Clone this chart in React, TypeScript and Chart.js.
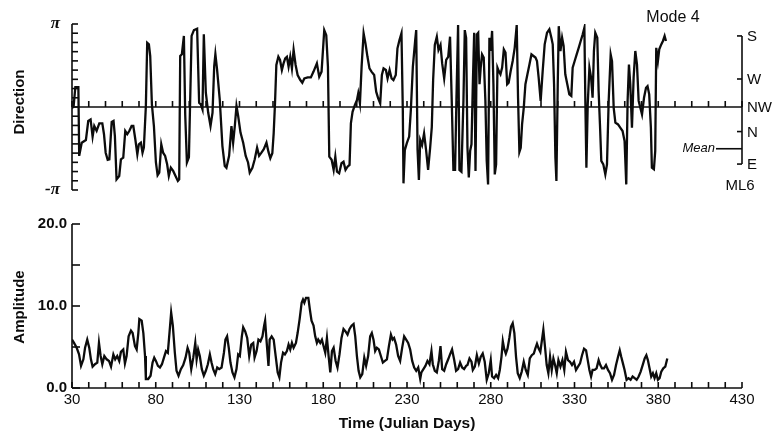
import React, { useEffect, useRef } from 'react';
import { Chart, registerables } from 'chart.js';

Chart.register(...registerables);

const PI = Math.PI;
const FAMILY = '"Liberation Sans", Arial, Helvetica, sans-serif';

// ---------- Direction series (radians) ----------
const dirDays = [
  30.0, 31.0, 32.0, 33.8, 34.3, 35.8, 38.3, 39.7, 41.1, 42.3, 43.3, 44.7, 46.3, 48.1, 49.1, 50.1, 51.3, 52.3,
  53.7, 54.8, 55.6, 56.6, 58.2, 59.2, 60.6, 61.8, 63.0, 64.2, 65.6, 66.6, 67.8, 69.0, 69.9, 71.1, 72.1, 72.9,
  74.1, 74.9, 75.9, 76.7, 77.7, 78.9, 80.1, 81.1, 82.1, 83.3, 84.4, 85.6, 86.8, 87.8, 89.0, 90.4, 91.8, 93.2,
  94.0, 94.6, 95.6, 96.8, 97.6, 98.6, 99.8, 101.4, 102.8, 104.7, 105.9, 106.9, 107.9, 108.7, 109.9, 111.3,
  112.7, 113.9, 114.9, 115.6, 116.6, 118.2, 119.8, 121.2, 122.2, 123.8, 125.2, 126.2, 127.2, 128.2, 129.2,
  130.6, 132.2, 133.7, 135.1, 136.1, 137.7, 139.1, 140.5, 141.7, 143.1, 144.5, 146.1, 147.3, 148.4, 149.6,
  150.4, 151.2, 152.0, 153.2, 154.2, 155.3, 156.3, 157.3, 158.3, 159.3, 160.3, 161.3, 162.3, 163.5, 164.7,
  166.3, 167.5, 168.7, 170.7, 172.6, 174.2, 176.2, 177.6, 179.0, 180.6, 181.8, 182.8, 183.6, 185.0, 186.2,
  187.2, 188.2, 189.5, 190.9, 192.1, 193.3, 194.5, 195.7, 196.5, 197.5, 198.9, 200.1, 200.9, 201.9, 202.9,
  204.1, 205.2, 206.4, 207.6, 208.8, 210.4, 211.6, 212.8, 214.0, 215.0, 216.0, 217.4, 218.4, 219.6, 220.8,
  221.9, 223.3, 224.3, 225.5, 226.7, 227.5, 227.9, 228.7, 229.9, 231.3, 232.3, 233.5, 234.9, 235.5, 236.3,
  237.1, 237.9, 239.0, 240.2, 241.4, 242.6, 243.8, 244.8, 245.6, 246.6, 247.8, 248.8, 250.0, 251.0, 252.2,
  253.4, 254.6, 255.7, 256.7, 257.7, 258.7, 259.5, 260.5, 261.3, 262.5, 263.7, 264.5, 265.3, 266.1, 266.9,
  267.7, 268.5, 269.3, 270.1, 270.9, 271.7, 272.5, 273.3, 274.0, 274.8, 275.8, 276.8, 277.6, 278.4, 279.2,
  280.0, 280.8, 281.6, 282.4, 283.2, 284.0, 284.8, 285.8, 286.8, 287.8, 288.8, 289.8, 290.7, 291.9, 293.1,
  294.3, 295.5, 296.3, 297.1, 297.9, 298.7, 299.7, 300.7, 301.9, 303.1, 304.3, 305.5, 306.7, 307.6, 308.6,
  309.8, 311.0, 312.2, 313.6, 315.0, 316.2, 317.0, 317.8, 318.6, 319.2, 320.0, 320.6, 321.6, 322.6, 323.5,
  324.5, 325.7, 326.9, 328.1, 328.9, 330.1, 331.3, 332.5, 333.7, 334.9, 335.9, 336.5, 337.1, 337.9, 338.9,
  339.9, 340.8, 341.6, 342.4, 343.6, 344.4, 345.2, 346.0, 347.2, 348.4, 349.4, 350.4, 351.6, 352.4, 353.4,
  354.4, 356.0, 357.3, 358.7, 359.9, 360.9, 361.7, 362.5, 363.3, 364.3, 365.3, 366.3, 367.3, 368.3, 369.3,
  370.3, 371.5, 372.7, 373.6, 374.6, 375.6, 376.2, 377.4, 378.2, 378.8, 379.8, 380.6, 381.8, 382.8, 383.8,
  384.6,
];
const dirValues = [
  -0.05, 0.05, 0.75, 0.75, -1.85, -1.35, -1.25, -0.53, -0.47, -1.12, -0.72, -0.9, -0.62, -0.62, -1.03, -1.73, -2.0, -1.98,
  -0.57, -0.53, -1.1, -2.74, -2.61, -1.98, -1.92, -0.91, -1.03, -0.91, -0.72, -0.72, -1.22, -1.79, -1.41, -1.35, -1.73, -1.54,
  0.04, 2.43, 2.37, 1.93, 0.1, -0.72, -2.1, -2.58, -2.48, -1.41, -1.73, -1.85, -2.17, -2.61, -2.3, -2.42, -2.61, -2.8,
  -2.74, 1.93, 2.0, 2.69, -0.3, -2.1, -1.9, 2.69, 2.91, 2.96, 0.16, 0.1, -0.09, 2.75, 0.54, -0.21,
  -0.72, -0.21, 1.55, 2.0, 1.42, 0.29, -1.48, -2.23, -2.3, -1.85, -0.72, -1.35, -0.72, 0.04, -0.34,
  -0.97, -1.35, -1.85, -2.1, -2.48, -2.3, -1.98, -1.54, -1.85, -1.73, -1.6, -1.35, -1.7, -1.94, -1.75,
  -1.0, 0.14, 1.59, 1.9, 1.78, 1.4, 1.65, 1.84, 1.9, 1.53, 1.9, 1.46, 2.16, 1.59, 1.21,
  1.02, 0.92, 1.08, 1.12, 1.12, 1.34, 1.65, 1.15, 1.34, 2.91, 2.72, 1.53, -1.88, -2.0, -2.38,
  -1.88, -2.45, -2.51, -2.13, -2.07, -2.38, -2.26, -2.19, -0.62, -0.18, 0.08, 0.26, 0.52, 0.14, 1.53,
  2.79, 2.41, 1.9, 1.46, 1.34, 1.21, 0.58, 0.33, 0.14, 1.21, 1.46, 1.4, 1.08, 1.4, 1.08,
  1.02, 1.21, 2.22, 2.53, 2.79, -0.11, -2.89, -1.63, -1.37, -1.12, -0.11, 1.53, 2.53, 2.91, -1.63,
  -2.76, -1.25, -1.44, -1.0, -1.63, -2.38, -1.56, -0.76, 1.02, 2.35, 2.66, 2.16, 2.35, 1.65, 1.08,
  1.78, 1.9, 2.66, 0.26, -2.38, -2.38, 0.26, 3.1, -2.38, -2.45, 0.26, 2.91, 2.62, -1.54, -2.67,
  -1.66, -1.41, 0.86, 2.81, -2.42, 2.75, 2.81, 0.86, 1.49, 1.99, 1.87, 0.23, -2.04, -2.93, 2.62,
  2.12, 2.88, 0.86, -2.55, -2.17, 1.49, 1.36, 1.24, 1.49, 2.18, 2.06, 0.86, 0.92, 1.36, 1.74,
  2.24, 3.1, 0.35, -1.7, -1.54, -0.66, -0.03, 0.86, 1.24, 1.61, 1.99, 1.93, 1.87, 1.74, 1.11,
  0.23, 1.36, 2.37, 2.81, 2.94, 2.62, 2.37, 0.86, -1.92, -2.8, 0.86, 3.06, 2.12, 2.62, 2.31,
  1.24, 0.86, 0.48, 0.42, 1.49, 1.74, 1.99, 2.24, 2.5, 2.75, 3.0, 0.1, -2.3, 0.1, 1.49,
  1.11, 0.35, 2.12, 2.81, 2.62, 0.61, -0.66, -2.04, -2.17, -2.55, -2.17, 0.23, 1.99, 1.74, -0.03,
  -0.59, -0.66, -0.78, -0.91, -1.29, -2.93, 0.23, 1.61, 0.86, -0.78, 1.11, 2.12, 1.61, 0.23, -0.03,
  -0.28, 0.35, 0.73, 0.79, 0.48, -0.78, -2.3, -2.36, -1.66, 2.24, 1.74, 2.18, 2.37, 2.5, 2.69,
  2.5,
];

// ---------- Amplitude series ----------
const ampDays = [
  30.0, 31.2, 32.8, 34.2, 35.4, 36.8, 37.8, 39.1, 40.3, 41.3, 42.3, 43.7, 45.1, 46.1, 47.1, 48.1, 49.3, 50.7,
  52.1, 53.3, 54.7, 55.8, 57.0, 58.2, 59.2, 60.6, 61.6, 62.6, 63.8, 65.2, 66.2, 67.6, 68.6, 69.6, 70.2, 71.6,
  72.6, 73.6, 74.1, 75.5, 76.9, 78.1, 79.1, 80.1, 81.3, 82.5, 83.7, 84.9, 86.1, 87.2, 88.4, 89.2, 90.2, 91.4,
  92.4, 93.6, 95.0, 96.4, 97.8, 99.0, 100.0, 101.2, 102.4, 103.6, 104.4, 105.3, 106.3, 107.5, 108.7, 109.9,
  111.1, 112.3, 113.3, 114.3, 115.5, 116.7, 117.9, 119.3, 120.7, 121.6, 122.6, 123.6, 124.6, 125.8, 127.0,
  128.2, 129.2, 130.2, 131.4, 132.2, 133.4, 134.6, 135.8, 137.0, 138.2, 139.0, 140.2, 141.3, 142.5, 143.7,
  144.7, 145.3, 146.1, 147.3, 148.0, 149.2, 150.4, 151.6, 152.8, 153.8, 154.8, 156.0, 157.1, 158.3, 159.3,
  160.3, 161.3, 162.3, 163.7, 164.7, 165.9, 167.1, 167.9, 168.7, 169.7, 171.1, 172.0, 173.0, 174.2, 175.2,
  176.2, 177.0, 178.2, 179.2, 180.2, 181.2, 182.2, 183.2, 184.2, 185.2, 186.2, 187.4, 188.5, 189.7, 190.9,
  192.1, 193.3, 194.5, 195.7, 196.9, 198.1, 199.1, 200.1, 201.1, 202.1, 203.3, 204.5, 205.6, 206.8, 208.0,
  209.0, 210.0, 211.0, 212.0, 213.2, 214.4, 215.6, 216.8, 218.0, 219.2, 220.4, 221.4, 222.3, 223.5, 224.7,
  225.9, 227.1, 228.3, 229.5, 230.7, 231.9, 233.1, 234.3, 235.5, 236.7, 237.9, 238.6, 239.8, 241.0, 242.2,
  243.4, 244.6, 245.4, 246.6, 247.8, 249.0, 250.0, 251.0, 252.2, 253.4, 254.6, 255.7, 256.9, 258.1, 259.3,
  260.5, 261.7, 262.9, 264.1, 265.3, 266.1, 267.3, 268.5, 269.3, 270.5, 271.7, 272.9, 274.0, 275.2, 276.4,
  277.6, 278.8, 280.0, 280.8, 282.0, 283.2, 284.4, 285.4, 286.4, 287.2, 288.0, 289.0, 290.0, 291.1, 292.1,
  293.1, 294.1, 295.1, 296.1, 297.3, 298.5, 299.7, 300.9, 302.1, 303.3, 304.5, 305.7, 306.6, 307.6, 308.6,
  309.6, 310.6, 311.4, 312.4, 313.4, 314.4, 315.4, 316.4, 317.4, 318.4, 319.4, 320.4, 321.6, 322.8, 323.9,
  324.9, 326.1, 327.3, 328.5, 329.7, 330.9, 332.1, 333.3, 334.5, 335.7, 336.9, 337.9, 338.9, 339.9, 340.8,
  342.0, 343.2, 344.4, 345.4, 346.4, 347.6, 348.8, 350.0, 351.2, 352.4, 353.6, 354.8, 356.0, 357.0, 357.9,
  358.9, 359.9, 361.1, 362.3, 363.5, 364.7, 365.9, 367.1, 368.3, 369.5, 370.7, 371.9, 372.9, 373.8, 374.8,
  375.8, 376.8, 377.8, 378.8, 379.8, 380.8, 381.8, 383.0, 384.2, 385.4,
];
const ampValues = [
  5.9, 5.5, 4.9, 4.1, 2.7, 3.5, 4.9, 5.9, 4.9, 3.5, 2.6, 2.9, 3.1, 5.5, 3.9, 2.9, 3.9, 3.5,
  3.3, 2.6, 4.1, 3.5, 3.9, 3.3, 4.4, 4.7, 3.0, 3.9, 6.3, 7.0, 6.7, 5.1, 4.7, 6.7, 8.4, 8.2,
  6.7, 3.9, 1.1, 1.1, 1.5, 3.1, 3.7, 3.3, 2.7, 2.5, 2.9, 3.7, 4.5, 4.3, 7.2, 9.2, 7.6, 4.3,
  2.1, 1.5, 2.3, 2.8, 3.7, 4.9, 4.3, 2.3, 3.7, 5.5, 3.5, 4.7, 3.9, 2.3, 1.5, 2.1,
  2.9, 4.1, 3.1, 2.3, 1.7, 2.5, 2.3, 2.5, 4.3, 5.9, 6.3, 4.9, 3.1, 1.9, 1.3,
  2.3, 4.1, 3.9, 6.3, 7.4, 6.9, 6.1, 3.9, 5.3, 5.5, 3.7, 4.5, 5.9, 5.7, 6.3,
  7.6, 8.2, 5.9, 2.7, 5.9, 6.3, 5.9, 3.9, 1.9, 1.3, 3.1, 4.3, 4.1, 4.5, 5.3,
  4.7, 5.5, 4.9, 5.5, 6.7, 8.4, 10.4, 10.8, 10.4, 11.0, 11.0, 9.6, 8.2, 7.6, 6.3,
  5.5, 5.9, 5.5, 5.9, 5.1, 4.3, 6.1, 3.9, 1.9, 4.5, 4.9, 3.3, 2.5, 4.1, 6.1,
  7.2, 6.9, 6.5, 7.2, 7.6, 7.8, 6.3, 3.9, 2.1, 1.3, 1.7, 3.7, 2.7, 3.9, 6.3,
  6.7, 5.9, 4.5, 4.9, 4.7, 3.9, 3.1, 3.3, 3.5, 5.1, 6.5, 5.9, 6.1, 5.3, 3.9,
  3.3, 4.9, 6.3, 5.9, 5.5, 4.7, 3.3, 2.5, 2.1, 2.5, 1.1, 1.9, 2.3, 2.7, 3.3,
  2.9, 4.5, 2.9, 2.1, 1.9, 3.3, 5.1, 2.3, 2.1, 2.9, 3.5, 4.1, 4.7, 3.5, 2.1,
  2.3, 3.1, 2.5, 2.3, 2.7, 2.8, 3.6, 3.2, 2.2, 2.6, 4.0, 3.0, 3.8, 4.2, 3.2,
  1.0, 1.8, 3.4, 1.4, 1.2, 1.6, 1.2, 2.2, 3.8, 5.7, 4.8, 4.2, 4.8, 6.1, 7.5,
  7.9, 6.7, 3.8, 1.8, 1.2, 2.0, 3.2, 2.2, 1.6, 3.6, 4.0, 4.2, 4.8, 5.4, 4.8,
  4.4, 5.9, 7.1, 5.0, 2.8, 1.8, 3.8, 2.2, 3.6, 2.8, 1.8, 3.4, 2.6, 3.4, 2.2,
  4.4, 3.4, 3.2, 2.8, 3.2, 2.2, 2.6, 3.0, 4.0, 4.8, 4.6, 3.4, 2.2, 1.4, 2.2,
  2.2, 2.4, 3.4, 2.8, 2.4, 2.4, 2.8, 2.2, 1.8, 1.0, 1.6, 2.8, 3.8, 4.6, 3.8,
  3.0, 2.2, 1.0, 1.2, 1.0, 1.4, 1.2, 1.0, 1.4, 2.0, 2.8, 3.6, 4.0, 3.4, 2.4,
  1.4, 1.8, 1.2, 1.8, 1.0, 1.2, 2.0, 2.4, 2.6, 3.6,
];

// ---------- Axes / annotations ----------
const dayTicks = [30, 40, 50, 60, 70, 80, 90, 100, 110, 120, 130, 140, 150, 160, 170, 180, 190, 200, 210, 220, 230,
  240, 250, 260, 270, 280, 290, 300, 310, 320, 330, 340, 350, 360, 370, 380, 390, 400, 410, 420, 430];
const dayLabels = [30, 80, 130, 180, 230, 280, 330, 380, 430];
const dirTickSteps = [-9, -8, -7, -6, -5, -4, -3, -2, -1, 0, 1, 2, 3, 4, 5, 6, 7, 8, 9]; // multiples of pi/9
const ampTicks = [0, 5, 10, 15, 20];
const ampLabels = [0, 10, 20];
const compassLabels = ['S', 'W', 'NW', 'N', 'E'];
const compassValues = [2.69, 1.06, 0, -0.93, -2.16];
const meanValue = -1.58;

const INK = '#0c0c0c';

function line(ctx: CanvasRenderingContext2D, x1: number, y1: number, x2: number, y2: number) {
  ctx.beginPath();
  ctx.moveTo(x1, y1);
  ctx.lineTo(x2, y2);
  ctx.stroke();
}

const topDecor = {
  id: 'topDecor',
  beforeDatasetsDraw(chart: any) {
    const { ctx, chartArea, scales } = chart;
    const x = scales.x;
    const y = scales.y;
    ctx.save();
    ctx.strokeStyle = INK;
    ctx.lineWidth = 1.6;
    const left = chartArea.left;
    const right = chartArea.right;
    // left axis
    line(ctx, left, y.getPixelForValue(PI), left, y.getPixelForValue(-PI));
    dirTickSteps.forEach((k) => {
      const py = y.getPixelForValue((k * PI) / 9);
      line(ctx, left, py, left + 6, py);
    });
    // zero line with day ticks
    const y0 = y.getPixelForValue(0);
    line(ctx, left, y0, right, y0);
    dayTicks.forEach((d) => {
      const px = x.getPixelForValue(d);
      line(ctx, px, y0, px, y0 - 6);
    });
    // compass axis on the right
    const yS = y.getPixelForValue(compassValues[0]);
    const yE = y.getPixelForValue(compassValues[compassValues.length - 1]);
    line(ctx, right, yS, right, yE);
    ctx.fillStyle = INK;
    ctx.font = `15px ${FAMILY}`;
    ctx.textAlign = 'left';
    ctx.textBaseline = 'middle';
    compassValues.forEach((v, i) => {
      const py = y.getPixelForValue(v);
      if (v !== 0) line(ctx, right - 5, py, right, py);
      ctx.fillText(compassLabels[i], right + 5, py + 1);
    });
    // mean marker
    const ym = y.getPixelForValue(meanValue);
    line(ctx, right - 26, ym, right, ym);
    ctx.font = `italic 13px ${FAMILY}`;
    ctx.textAlign = 'right';
    ctx.fillText('Mean', right - 27, ym);
    ctx.restore();
  },
};

const bottomDecor = {
  id: 'bottomDecor',
  beforeDatasetsDraw(chart: any) {
    const { ctx, chartArea, scales } = chart;
    const x = scales.x;
    const y = scales.y;
    ctx.save();
    ctx.strokeStyle = INK;
    ctx.lineWidth = 1.6;
    const left = chartArea.left;
    const right = chartArea.right;
    const yb = y.getPixelForValue(0);
    line(ctx, left, y.getPixelForValue(20), left, yb);
    line(ctx, left, yb, right, yb);
    ampTicks.forEach((v) => {
      const py = y.getPixelForValue(v);
      line(ctx, left, py, left + 8, py);
    });
    dayTicks.forEach((d) => {
      const px = x.getPixelForValue(d);
      line(ctx, px, yb, px, yb - 6);
    });
    ctx.restore();
  },
};

function TopChart() {
  const ref = useRef<HTMLCanvasElement | null>(null);
  useEffect(() => {
    if (!ref.current) return;
    const chart = new Chart(ref.current, {
      type: 'line',
      data: {
        datasets: [
          {
            data: dirDays.map((d, i) => ({ x: d, y: dirValues[i] })),
            borderColor: INK,
            borderWidth: 2.3,
            pointRadius: 0,
            tension: 0,
          },
        ],
      },
      options: {
        animation: false,
        responsive: false,
        maintainAspectRatio: false,
        layout: { padding: { top: 24, right: 35, bottom: 15, left: 0 } },
        plugins: { legend: { display: false }, tooltip: { enabled: false } },
        scales: {
          x: { type: 'linear', min: 30, max: 430, display: false },
          y: {
            type: 'linear',
            min: -PI,
            max: PI,
            afterBuildTicks: (scale: any) => {
              scale.ticks = dirTickSteps.map((k) => ({ value: (k * PI) / 9 }));
            },
            afterFit: (scale: any) => {
              scale.width = 72;
            },
            grid: { display: false },
            border: { display: false },
            ticks: {
              padding: 4,
              color: INK,
              autoSkip: false,
              font: { family: '"Liberation Serif", "DejaVu Serif", serif', size: 17, style: 'italic', weight: 'bold' },
              callback: (v: any) => {
                const k = Math.round((Number(v) * 9) / PI);
                if (k === 9) return 'π';
                if (k === -9) return '-π';
                return '';
              },
            },
          },
        },
      },
      plugins: [topDecor],
    } as any);
    return () => chart.destroy();
  }, []);
  return <canvas ref={ref} width={777} height={205} style={{ position: 'absolute', left: 0, top: 0, width: 777, height: 205 }} />;
}

function BottomChart() {
  const ref = useRef<HTMLCanvasElement | null>(null);
  useEffect(() => {
    if (!ref.current) return;
    const chart = new Chart(ref.current, {
      type: 'line',
      data: {
        datasets: [
          {
            data: ampDays.map((d, i) => ({ x: d, y: ampValues[i] })),
            borderColor: INK,
            borderWidth: 2.3,
            pointRadius: 0,
            tension: 0,
          },
        ],
      },
      options: {
        animation: false,
        responsive: false,
        maintainAspectRatio: false,
        layout: { padding: { top: 19, right: 35, bottom: 0, left: 0 } },
        plugins: { legend: { display: false }, tooltip: { enabled: false } },
        scales: {
          x: {
            type: 'linear',
            min: 30,
            max: 430,
            afterBuildTicks: (scale: any) => {
              scale.ticks = dayTicks.map((v) => ({ value: v }));
            },
            afterFit: (scale: any) => {
              scale.height = 46;
            },
            grid: { display: false, drawTicks: false },
            border: { display: false },
            ticks: {
              padding: 3,
              color: INK,
              autoSkip: false,
              maxRotation: 0,
              font: { family: FAMILY, size: 15 },
              callback: (v: any) => (dayLabels.includes(Number(v)) ? String(v) : ''),
            },
          },
          y: {
            type: 'linear',
            min: 0,
            max: 20,
            afterBuildTicks: (scale: any) => {
              scale.ticks = ampTicks.map((v) => ({ value: v }));
            },
            afterFit: (scale: any) => {
              scale.width = 72;
            },
            grid: { display: false, drawTicks: false },
            border: { display: false },
            ticks: {
              padding: 5,
              color: INK,
              autoSkip: false,
              font: { family: FAMILY, size: 15, weight: 'bold' },
              callback: (v: any) => (ampLabels.includes(Number(v)) ? Number(v).toFixed(1) : ''),
            },
          },
        },
      },
      plugins: [bottomDecor],
    } as any);
    return () => chart.destroy();
  }, []);
  return <canvas ref={ref} width={777} height={229} style={{ position: 'absolute', left: 0, top: 205, width: 777, height: 229 }} />;
}

const labelBase: React.CSSProperties = {
  position: 'absolute',
  fontFamily: FAMILY,
  color: INK,
  whiteSpace: 'nowrap',
  lineHeight: 1,
  transform: 'translate(-50%, -50%)',
};

export default function App() {
  return (
    <div style={{ position: 'fixed', left: 0, top: 0, width: 777, height: 434, background: '#fff', overflow: 'hidden' }}>
      <TopChart />
      <BottomChart />
      <div style={{ ...labelBase, left: 18, top: 102, fontSize: 15, fontWeight: 'bold', transform: 'translate(-50%, -50%) rotate(-90deg)' }}>Direction</div>
      <div style={{ ...labelBase, left: 18, top: 307, fontSize: 15, fontWeight: 'bold', transform: 'translate(-50%, -50%) rotate(-90deg)' }}>Amplitude</div>
      <div style={{ ...labelBase, left: 407, top: 423, fontSize: 15.5, fontWeight: 'bold' }}>Time (Julian Days)</div>
      <div style={{ ...labelBase, left: 673, top: 17, fontSize: 16 }}>Mode 4</div>
      <div style={{ ...labelBase, left: 740, top: 184, fontSize: 15 }}>ML6</div>
    </div>
  );
}
